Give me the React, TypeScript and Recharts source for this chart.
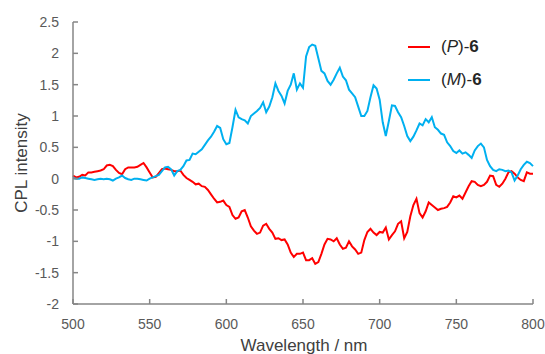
import React from "react";
import { Line, LineChart, XAxis, YAxis } from "recharts";

// wavelength grid, 2 nm steps from 500 to 800
const wavelengths = Array.from({ length: 151 }, (_, i) => 500 + i * 2);

const pValues = [
  0.05, 0.02, 0.03, 0.06, 0.05, 0.1, 0.1, 0.11, 0.12, 0.13,
  0.15, 0.21, 0.22, 0.2, 0.14, 0.09, 0.07, 0.15, 0.18, 0.18,
  0.18, 0.19, 0.22, 0.25, 0.18, 0.1, 0.02, 0.03, 0.09, 0.15,
  0.16, 0.15, 0.14, 0.12, 0.12, 0.13, 0.06, 0.01, -0.02, -0.05,
  -0.09, -0.08, -0.12, -0.13, -0.18, -0.25, -0.32, -0.38, -0.37, -0.35,
  -0.42, -0.45, -0.58, -0.64, -0.62, -0.52, -0.5, -0.62, -0.76, -0.83,
  -0.88, -0.86, -0.75, -0.72, -0.8, -0.86, -0.96, -0.95, -0.98, -0.97,
  -1.05, -1.18, -1.25, -1.2, -1.2, -1.18, -1.3, -1.3, -1.27, -1.36,
  -1.33, -1.2, -1.05, -0.96, -0.97, -1.0, -0.95, -1.05, -1.12, -1.1,
  -1.0, -1.08, -1.13, -1.2, -1.18, -0.98, -0.85, -0.8, -0.86, -0.9,
  -0.85, -0.86, -0.78, -0.97, -0.9, -0.84, -0.72, -0.68, -0.95, -0.85,
  -0.6, -0.42, -0.32, -0.55, -0.62, -0.52, -0.38, -0.42, -0.46, -0.5,
  -0.48, -0.47, -0.45, -0.38, -0.28, -0.3, -0.27, -0.32, -0.22, -0.12,
  -0.04, -0.05, -0.1, -0.12, -0.1, -0.05, 0.05, 0.04, -0.1, -0.13,
  -0.08, 0.0, 0.1, 0.12, 0.08, 0.02, -0.02, -0.04, 0.1, 0.08,
  0.08,
];

const mValues = [
  0.01, 0.0, 0.0, 0.02, 0.01, 0.0, -0.01, -0.02, -0.01, 0.0,
  -0.01, 0.0, -0.01, -0.03, 0.0, 0.02, 0.05, 0.01, -0.01, -0.02,
  0.0, 0.0, -0.01, -0.02, -0.03, 0.0, 0.02, 0.04, 0.06, 0.12,
  0.18, 0.19, 0.15, 0.05, 0.12, 0.14, 0.2, 0.29, 0.3, 0.4,
  0.39, 0.43, 0.47, 0.54, 0.61, 0.67, 0.75, 0.84, 0.81, 0.63,
  0.55, 0.57, 0.82, 1.1, 0.98, 0.95, 0.93, 0.88, 1.0, 1.04,
  1.08, 1.13, 1.22, 1.06, 1.15, 1.3, 1.52, 1.4, 1.32, 1.2,
  1.4, 1.5, 1.68, 1.42, 1.52, 1.45, 1.95, 2.1, 2.14, 2.12,
  1.92, 1.72, 1.68, 1.56, 1.5, 1.58, 1.68, 1.77, 1.63, 1.57,
  1.42, 1.36, 1.3, 1.15, 1.0, 1.0, 1.08, 1.3, 1.49, 1.44,
  1.26, 0.9, 0.68, 0.92, 1.17, 1.16, 1.06, 0.98, 0.84, 0.68,
  0.6, 0.67, 0.77, 0.88, 0.85, 0.95, 0.9, 0.98, 0.82, 0.78,
  0.72, 0.7, 0.58, 0.52, 0.44, 0.41, 0.45, 0.4, 0.42, 0.38,
  0.33, 0.45, 0.52, 0.56, 0.5, 0.3, 0.2, 0.14, 0.12, 0.15,
  0.14, 0.12, 0.13, 0.1, -0.03, 0.05, 0.15, 0.22, 0.27, 0.25,
  0.2,
];

const xTicks = [500, 550, 600, 650, 700, 750, 800];
const yTicks = [-2, -1.5, -1, -0.5, 0, 0.5, 1, 1.5, 2, 2.5];

const data = wavelengths.map((w, i) => ({ w, p: pValues[i], m: mValues[i] }));

const FONT = "'Liberation Sans', Arial, sans-serif";
const AXIS = "#868686";
const INK = "#595959";
const RED = "#ff0000";
const BLUE = "#00b0f0";

function XTick({ x, y, payload }: any) {
  return (
    <g>
      <line x1={x} x2={x} y1={y - 15} y2={y - 20} stroke={AXIS} strokeWidth={1.5} />
      <text x={x} y={y} dy="0.71em" textAnchor="middle" fontSize={14} fill={INK} fontFamily={FONT}>
        {payload.value}
      </text>
    </g>
  );
}

function YTick({ x, y, payload }: any) {
  return (
    <g>
      <line x1={x + 14} x2={x + 19} y1={y} y2={y} stroke={AXIS} strokeWidth={1.5} />
      <text x={x} y={y} dy="0.355em" textAnchor="end" fontSize={14} fill={INK} fontFamily={FONT}>
        {payload.value}
      </text>
    </g>
  );
}

const YLabel = () => (
  <text
    x={21}
    y={163}
    transform="rotate(-90 21 163)"
    textAnchor="middle"
    dominantBaseline="central"
    fontSize={17}
    fill="#404040"
    fontFamily={FONT}
  >
    CPL intensity
  </text>
);

const XLabel = () => (
  <text x={304} y={345} textAnchor="middle" dominantBaseline="central" fontSize={17} fill="#404040" fontFamily={FONT}>
    Wavelength / nm
  </text>
);

function LegendRow({ color, top, name }: { color: string; top: number; name: string }) {
  return (
    <div style={{ position: "absolute", left: 408, top: top - 11, height: 22, display: "flex", alignItems: "center" }}>
      <div style={{ width: 22, height: 2, background: color, marginRight: 11 }} />
      <span style={{ fontSize: 17, color: "#262626", fontFamily: FONT }}>
        (<i>{name}</i>)-<b>6</b>
      </span>
    </div>
  );
}

export default function App() {
  return (
    <div style={{ position: "absolute", left: 0, top: 0, width: 545, height: 354, background: "#fff" }}>
      <LineChart width={545} height={354} data={data} margin={{ top: 22, right: 12, left: 0, bottom: 0 }}>
        <XAxis
          dataKey="w"
          type="number"
          domain={[500, 800]}
          ticks={xTicks}
          height={50}
          stroke={AXIS}
          strokeWidth={1.5}
          tickSize={0}
          tickMargin={15}
          tick={<XTick />}
          label={<XLabel />}
        />
        <YAxis
          type="number"
          domain={[-2, 2.5]}
          ticks={yTicks}
          width={73}
          stroke={AXIS}
          strokeWidth={1.5}
          tickSize={0}
          tickMargin={14}
          tick={<YTick />}
          label={<YLabel />}
        />
        <Line dataKey="p" stroke={RED} strokeWidth={2} dot={false} isAnimationActive={false} />
        <Line dataKey="m" stroke={BLUE} strokeWidth={2} dot={false} isAnimationActive={false} />
      </LineChart>
      <LegendRow color={RED} top={47} name="P" />
      <LegendRow color={BLUE} top={80} name="M" />
    </div>
  );
}
